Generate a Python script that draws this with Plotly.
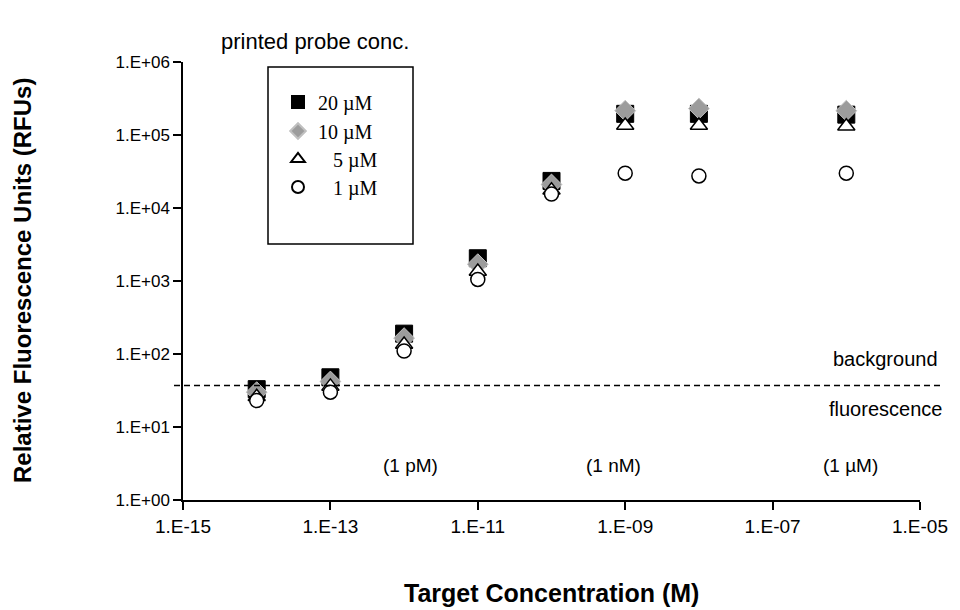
import math
import plotly.graph_objects as go

# Data
target_conc = [1e-14, 1e-13, 1e-12, 1e-11, 1e-10, 1e-9, 1e-8, 1e-6]
rfu_20uM = [33, 48, 190, 2050, 23500, 195000, 195000, 190000]
rfu_10uM = [30, 42, 165, 1700, 21000, 215000, 230000, 215000]
rfu_5uM = [26, 36, 135, 1350, 17500, 135000, 135000, 132000]
rfu_1uM = [23, 30, 110, 1050, 15500, 30000, 27500, 30000]
background_level = 37

series_names = ["20 \u00b5M", "10 \u00b5M", "\u2007 5 \u00b5M", "\u2007 1 \u00b5M"]

x_tickvals = [1e-15, 1e-13, 1e-11, 1e-9, 1e-7, 1e-5]
x_ticktext = ["1.E-15", "1.E-13", "1.E-11", "1.E-09", "1.E-07", "1.E-05"]
y_tickvals = [1, 10, 100, 1e3, 1e4, 1e5, 1e6]
y_ticktext = ["1.E+00", "1.E+01", "1.E+02", "1.E+03", "1.E+04", "1.E+05", "1.E+06"]

conc_labels = ["(1 pM)", "(1 nM)", "(1 \u00b5M)"]

# plot-area pixel geometry (for converting layout positions)
PL, PR, PT, PB = 183, 920, 62, 500
def px(xp):
    return (xp - PL) / (PR - PL)
def py(yp):
    return (PB - yp) / (PB - PT)

SANS = "Liberation Sans, Arial, sans-serif"
SERIF = "Liberation Serif, Times New Roman, serif"

fig = go.Figure()

marker_styles = [
    dict(symbol="square", size=17, color="black", line=dict(color="black", width=1)),
    dict(symbol="diamond", size=16, color="#9c9c9c", line=dict(color="#c0c0c0", width=1)),
    dict(symbol="triangle-up", size=15, color="white", line=dict(color="black", width=1.5)),
    dict(symbol="circle", size=14, color="white", line=dict(color="black", width=1.5)),
]
series = [rfu_20uM, rfu_10uM, rfu_5uM, rfu_1uM]
legend_ids = ["legend", "legend2", "legend3", "legend4"]
legend_rows_px = [102, 131, 159, 187]

for name, vals, ms, lid in zip(series_names, series, marker_styles, legend_ids):
    fig.add_trace(go.Scatter(x=target_conc, y=vals, mode="markers", name=name,
                             marker=ms, legend=lid))

# background line (slightly extended past the axes like the original)
fig.add_shape(type="line", xref="paper", x0=px(174), x1=px(943), yref="y",
              y0=background_level, y1=background_level,
              line=dict(color="black", width=1.5, dash="6px,4px"))

# legend box
fig.add_shape(type="rect", xref="paper", yref="paper",
              x0=px(268), x1=px(413), y0=py(244), y1=py(67),
              line=dict(color="black", width=1.5), fillcolor="rgba(0,0,0,0)")

annotations = []
for lbl, xpix in zip(conc_labels, [410, 613, 850]):
    annotations.append(dict(x=px(xpix), xref="paper", y=py(465), yref="paper", text=lbl,
                            showarrow=False, xanchor="center", yanchor="middle",
                            font=dict(family=SANS, size=19, color="black")))
annotations += [
    dict(x=px(940), xref="paper", y=math.log10(background_level), yref="y", yshift=27,
         text="background", xanchor="right", yanchor="middle", showarrow=False,
         font=dict(family=SANS, size=20, color="black")),
    dict(x=px(944), xref="paper", y=math.log10(background_level), yref="y", yshift=-23,
         text="fluorescence", xanchor="right", yanchor="middle", showarrow=False,
         font=dict(family=SANS, size=20, color="black")),
    dict(x=px(315), xref="paper", y=py(42), yref="paper", text="printed probe conc.",
         xanchor="center", yanchor="middle", showarrow=False,
         font=dict(family=SANS, size=22, color="black")),
    dict(x=0.5, xref="paper", y=py(593), yref="paper", text="<b>Target Concentration (M)</b>",
         xanchor="center", yanchor="middle", showarrow=False,
         font=dict(family=SANS, size=25, color="black")),
    dict(x=px(22), xref="paper", y=py(281), yref="paper",
         text="<b>Relative Fluorescence Units (RFUs)</b>", textangle=-90,
         xanchor="center", yanchor="middle", showarrow=False,
         font=dict(family=SANS, size=24, color="black")),
]

legend_common = dict(xanchor="left", yanchor="middle", bgcolor="rgba(0,0,0,0)", borderwidth=0,
                     font=dict(family=SERIF, size=20, color="black"), itemwidth=30,
                     itemsizing="constant")
layout_legends = {}
for lid, row in zip(legend_ids, legend_rows_px):
    layout_legends[lid] = dict(x=px(278), y=py(row), **legend_common)

fig.update_layout(
    width=960, height=610,
    margin=dict(l=PL, r=960 - PR, t=PT, b=610 - PB),
    paper_bgcolor="white", plot_bgcolor="white",
    showlegend=True,
    annotations=annotations,
    xaxis=dict(type="log", range=[-15, -5], tickvals=x_tickvals, ticktext=x_ticktext,
               showgrid=False, zeroline=False, showline=True, linecolor="black", linewidth=1.5,
               ticks="outside", ticklen=8, tickcolor="black", tickwidth=1.5,
               tickfont=dict(family=SANS, size=19, color="black")),
    yaxis=dict(type="log", range=[0, 6], tickvals=y_tickvals, ticktext=y_ticktext,
               showgrid=False, zeroline=False, showline=True, linecolor="black", linewidth=1.5,
               ticks="outside", ticklen=8, tickcolor="black", tickwidth=1.5,
               tickfont=dict(family=SANS, size=17, color="black")),
    **layout_legends,
)

fig.write_html("out.html")
